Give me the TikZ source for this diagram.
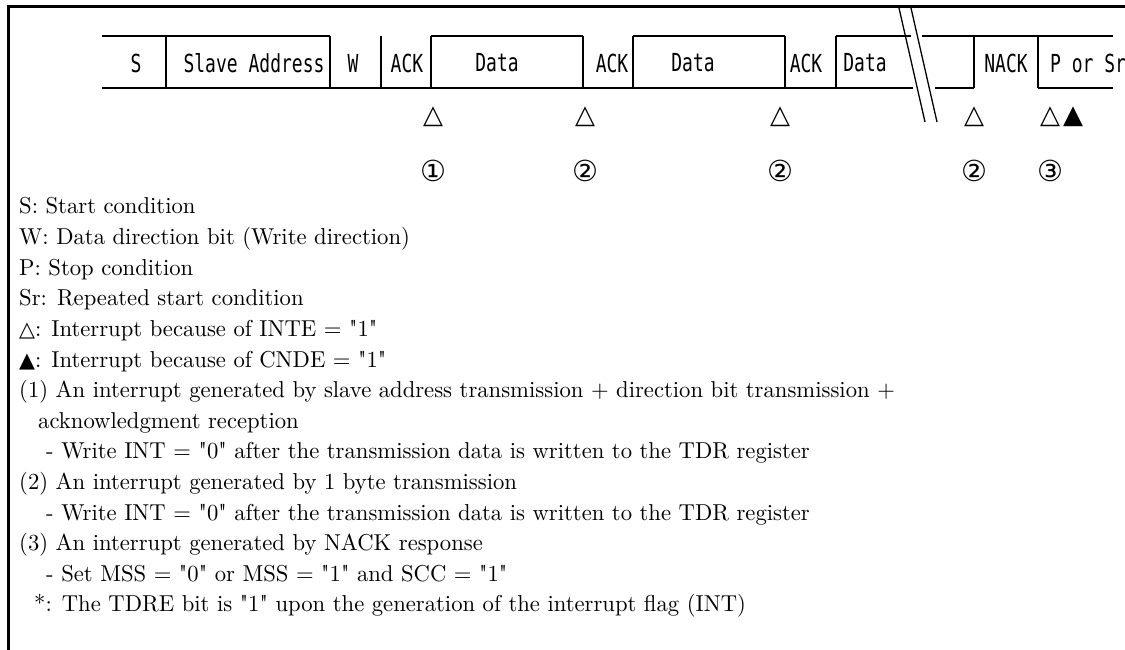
\documentclass[tikz,border=0pt]{standalone}
\usepackage{fontspec}
\newfontfamily\lgdfont{lmroman10-regular.otf}
\newfontfamily\monofont{DejaVu Sans Mono}
\newfontfamily\symfont{DejaVu Sans}
\newcommand\wavelbl[1]{\scalebox{1}[1.38]{\monofont\fontsize{18}{18}\selectfont #1}}
\newcommand\lgdline[1]{\scalebox{0.985}[1]{\lgdfont\fontsize{23}{30}\selectfont #1}}
\newcommand\wtri{{\symfont\fontsize{21}{24}\selectfont △}}
\newcommand\btri{{\symfont\fontsize{21}{24}\selectfont ▲}}
\begin{document}
\begin{tikzpicture}[x=1pt,y=-1pt,
  frame/.style={line width=3pt, line join=miter},
  wave/.style={line width=1.3pt},
  wlab/.style={inner sep=0pt, anchor=center},
  intmark/.style={inner sep=0pt, font=\symfont\fontsize{26}{26}\selectfont},
  num/.style={inner sep=0pt, font=\symfont\fontsize{29}{29}\selectfont},
  lgd/.style={inner sep=0pt, anchor=base west}]
\useasboundingbox (0,0) rectangle (1125,650);
% frame
\draw[frame] (8.5,652) -- (8.5,6.5) -- (1127,6.5);
% waveform
\def\H{36}\def\L{88}
\draw[wave] (102,\H) -- (330,\H);
\draw[wave] (431,\H) -- (583,\H);
\draw[wave] (633,\H) -- (785,\H);
\draw[wave] (836,\H) -- (911,\H);
\draw[wave] (922,\H) -- (1113,\H);
\draw[wave] (102,\L) -- (913,\L);
\draw[wave] (935,\L) -- (974,\L);
\draw[wave] (1038,\L) -- (1113,\L);
\foreach \x in {166,330,381,431,583,633,785,836,974,1038}
  \draw[wave] (\x,\H) -- (\x,\L);
% break marks
\draw[wave] (899,8) -- (925,122);
\draw[wave] (911,8) -- (937,122);
% field labels
\node[wlab] (fS) at (136,63) {\wavelbl{S}};
\node[wlab] (fSA) at (254,63) {\wavelbl{Slave Address}};
\node[wlab] (fW) at (353,63) {\wavelbl{W}};
\node[wlab] (fA1) at (407,63) {\wavelbl{ACK}};
\node[wlab] (fD1) at (497,63) {\wavelbl{Data}};
\node[wlab] (fA2) at (612,63) {\wavelbl{ACK}};
\node[wlab] (fD2) at (693,63) {\wavelbl{Data}};
\node[wlab] (fA3) at (806,63) {\wavelbl{ACK}};
\node[wlab] (fD3) at (865,63) {\wavelbl{Data}};
\node[wlab] (fN) at (1006,63) {\wavelbl{NACK}};
\node[wlab,anchor=west] (fP) at (1050,63) {\wavelbl{P or Sr}};
% interrupt marks
\node[intmark] (t1) at (433,117) {△};
\node[intmark] (t2) at (585,117) {△};
\node[intmark] (t3) at (780,117) {△};
\node[intmark] (t4) at (974,117) {△};
\node[intmark] (t5) at (1050,117) {△};
\node[intmark] (t6) at (1073,117) {▲};
\node[num] (n1) at (433,171) {①};
\node[num] (n2) at (585,171) {②};
\node[num] (n3) at (780,171) {②};
\node[num] (n4) at (974,171) {②};
\node[num] (n5) at (1050,171) {③};
% legend
\node[lgd] (l1) at (19,214) {\lgdline{S: Start condition}};
\node[lgd] (l2) at (19,244.6) {\lgdline{W: Data direction bit (Write direction)}};
\node[lgd] (l3) at (19,275.2) {\lgdline{P: Stop condition}};
\node[lgd] (l4) at (19,305.8) {\lgdline{Sr: Repeated start condition}};
\node[lgd] (l5) at (19,336.4) {\lgdline{\wtri: Interrupt because of INTE = "1"}};
\node[lgd] (l6) at (19,367) {\lgdline{\btri: Interrupt because of CNDE = "1"}};
\node[lgd] (l7) at (19,397.6) {\lgdline{(1) An interrupt generated by slave address transmission + direction bit transmission +}};
\node[lgd] (l8) at (38,428.2) {\lgdline{acknowledgment reception}};
\node[lgd] (l9) at (46,458.8) {\lgdline{- Write INT = "0" after the transmission data is written to the TDR register}};
\node[lgd] (l10) at (19,489.4) {\lgdline{(2) An interrupt generated by 1 byte transmission}};
\node[lgd] (l11) at (46,520) {\lgdline{- Write INT = "0" after the transmission data is written to the TDR register}};
\node[lgd] (l12) at (19,550.6) {\lgdline{(3) An interrupt generated by NACK response}};
\node[lgd] (l13) at (46,581.2) {\lgdline{- Set MSS = "0" or MSS = "1" and SCC = "1"}};
\node[lgd] (l14) at (34,611.8) {\lgdline{*: The TDRE bit is "1" upon the generation of the interrupt flag (INT)}};
\end{tikzpicture}
\end{document}
